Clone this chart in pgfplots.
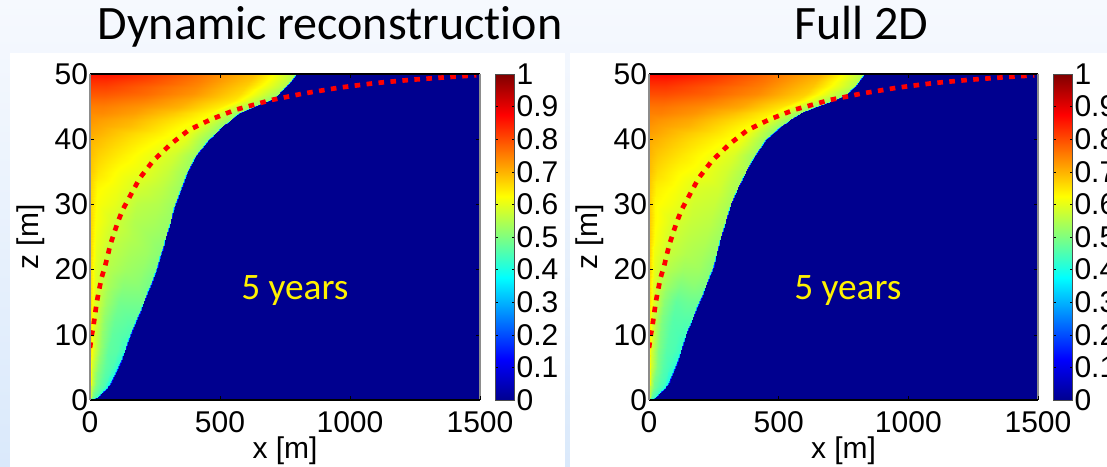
\documentclass[border=0pt]{standalone}
\usepackage{fontspec}
\setmainfont{Carlito}[Ligatures=NoCommon]
\newfontfamily\arialfont{Liberation Sans}
\usepackage{pgfplots}
\usepackage{pgfplotstable}
\pgfplotsset{compat=1.18}

% x z value : one text line per mesh row (front position)
\pgfplotstableread[row sep=\\]{
x z v\\
0 0 .68\\ .1 0 .58\\ .3 0 .5\\ .55 0 .47\\ .8 0 .44\\ 1 0 .4\\ 7 0 0\\
0 .5 .67\\ 2 .5 .58\\ 8 .5 .5\\ 15 .5 .47\\ 22 .5 .45\\ 26 .5 .4\\ 32 .5 0\\
0 1 .67\\ 3 1 .58\\ 13 1 .5\\ 23 1 .47\\ 34 1 .45\\ 42 1 .4\\ 48 1 0\\
0 1.5 .67\\ 4 1.5 .57\\ 16 1.5 .5\\ 30 1.5 .47\\ 43 1.5 .45\\ 54 1.5 .4\\ 60 1.5 0\\
0 2 .66\\ 5 2 .57\\ 20 2 .5\\ 36 2 .47\\ 52 2 .45\\ 65 2 .4\\ 71 2 0\\
0 2.5 .66\\ 6 2.5 .57\\ 22 2.5 .5\\ 41 2.5 .47\\ 59 2.5 .45\\ 74 2.5 .40\\ 80 2.5 0\\
0 5 .66\\ 8 5 .58\\ 31 5 .51\\ 57 5 .47\\ 83 5 .45\\ 104 5 .42\\ 110 5 0\\
0 7.5 .66\\ 10 7.5 .6\\ 39 7.5 .52\\ 71 7.5 .47\\ 103 7.5 .46\\ 129 7.5 .43\\ 135 7.5 0\\
0 10 .66\\ 12 10 .6\\ 45 10 .52\\ 83 10 .47\\ 121 10 .46\\ 151 10 .45\\ 157 10 0\\
0 12.5 .66\\ 14 12.5 .6\\ 53 12.5 .52\\ 97 12.5 .48\\ 142 12.5 .47\\ 177 12.5 .47\\ 183 12.5 0\\
0 15 .66\\ 16 15 .6\\ 61 15 .53\\ 112 15 .49\\ 162 15 .49\\ 203 15 .49\\ 209 15 0\\
0 17.5 .66\\ 18 17.5 .6\\ 69 17.5 .54\\ 126 17.5 .51\\ 183 17.5 .51\\ 228 17.5 .49\\ 234 17.5 0\\
0 20 .66\\ 20 20 .6\\ 75 20 .55\\ 138 20 .53\\ 200 20 .52\\ 250 20 .5\\ 256 20 0\\
0 22.5 .67\\ 22 22.5 .6\\ 81 22.5 .56\\ 149 22.5 .54\\ 216 22.5 .53\\ 270 22.5 .51\\ 276 22.5 0\\
0 25 .67\\ 23 25 .61\\ 86 25 .57\\ 158 25 .55\\ 230 25 .53\\ 288 25 .52\\ 294 25 0\\
0 27.5 .67\\ 24 27.5 .62\\ 92 27.5 .58\\ 168 27.5 .55\\ 245 27.5 .54\\ 306 27.5 .525\\ 312 27.5 0\\
0 30 .67\\ 26 30 .62\\ 98 30 .6\\ 179 30 .56\\ 260 30 .55\\ 325 30 .53\\ 331 30 0\\
0 32.5 .67\\ 28 32.5 .63\\ 104 32.5 .61\\ 191 32.5 .58\\ 278 32.5 .56\\ 347 32.5 .53\\ 353 32.5 0\\
0 35 .68\\ 30 35 .65\\ 111 35 .62\\ 204 35 .6\\ 296 35 .57\\ 370 35 .53\\ 376 35 0\\
0 37.5 .69\\ 32 37.5 .67\\ 122 37.5 .64\\ 223 37.5 .61\\ 324 37.5 .58\\ 405 37.5 .53\\ 411 37.5 0\\
0 40 .70\\ 36 40 .69\\ 137 40 .66\\ 250 40 .63\\ 364 40 .6\\ 455 40 .52\\ 461 40 0\\
0 41 .71\\ 38 41 .7\\ 144 41 .67\\ 264 41 .64\\ 384 41 .6\\ 480 41 .52\\ 486 41 0\\
0 42 .72\\ 41 42 .71\\ 152 42 .69\\ 279 42 .65\\ 406 42 .61\\ 507 42 .52\\ 513 42 0\\
0 43 .73\\ 43 43 .72\\ 161 43 .7\\ 295 43 .66\\ 430 43 .62\\ 537 43 .52\\ 543 43 0\\
0 44 .74\\ 46 44 .74\\ 171 44 .72\\ 314 44 .68\\ 456 44 .63\\ 570 44 .52\\ 576 44 0\\
0 45 .75\\ 50 45 .75\\ 188 45 .73\\ 344 45 .7\\ 500 45 .64\\ 625 45 .52\\ 631 45 0\\
0 46 .77\\ 55 46 .77\\ 207 46 .75\\ 380 46 .71\\ 552 46 .65\\ 690 46 .52\\ 696 46 0\\
0 47 .79\\ 58 47 .79\\ 217 47 .77\\ 397 47 .73\\ 578 47 .66\\ 722 47 .53\\ 728 47 0\\
0 48 .81\\ 60 48 .81\\ 224 48 .78\\ 411 48 .74\\ 598 48 .67\\ 748 48 .55\\ 754 48 0\\
0 49 .83\\ 62 49 .83\\ 231 49 .8\\ 424 49 .75\\ 616 49 .68\\ 770 49 .55\\ 776 49 0\\
0 50 .86\\ 63 50 .86\\ 237 50 .82\\ 435 50 .76\\ 632 50 .69\\ 790 50 .55\\ 796 50 0\\
}\tabL

\pgfplotstableread[row sep=\\]{
x z v\\
0 0 .68\\ .1 0 .56\\ .3 0 .49\\ .55 0 .46\\ .8 0 .44\\ 1 0 .4\\ 7 0 0\\
0 .5 .67\\ 2 .5 .56\\ 7 .5 .49\\ 12 .5 .46\\ 18 .5 .44\\ 22 .5 .4\\ 28 .5 0\\
0 1 .67\\ 3 1 .56\\ 11 1 .49\\ 21 1 .46\\ 30 1 .44\\ 38 1 .4\\ 44 1 0\\
0 1.5 .67\\ 4 1.5 .56\\ 15 1.5 .49\\ 28 1.5 .46\\ 40 1.5 .44\\ 50 1.5 .4\\ 56 1.5 0\\
0 2 .66\\ 5 2 .56\\ 18 2 .49\\ 34 2 .46\\ 49 2 .44\\ 61 2 .4\\ 67 2 0\\
0 2.5 .66\\ 6 2.5 .56\\ 21 2.5 .49\\ 38 2.5 .46\\ 56 2.5 .44\\ 70 2.5 .40\\ 76 2.5 0\\
0 5 .66\\ 8 5 .58\\ 29 5 .5\\ 53 5 .46\\ 78 5 .44\\ 97 5 .42\\ 103 5 0\\
0 7.5 .66\\ 9 7.5 .59\\ 35 7.5 .5\\ 65 7.5 .46\\ 94 7.5 .45\\ 118 7.5 .43\\ 124 7.5 0\\
0 10 .66\\ 11 10 .59\\ 41 10 .5\\ 76 10 .46\\ 110 10 .45\\ 138 10 .44\\ 144 10 0\\
0 12.5 .66\\ 13 12.5 .59\\ 50 12.5 .5\\ 91 12.5 .46\\ 132 12.5 .46\\ 165 12.5 .46\\ 171 12.5 0\\
0 15 .67\\ 15 15 .6\\ 57 15 .51\\ 105 15 .47\\ 152 15 .48\\ 190 15 .48\\ 196 15 0\\
0 17.5 .67\\ 17 17.5 .6\\ 65 17.5 .53\\ 118 17.5 .5\\ 172 17.5 .51\\ 215 17.5 .5\\ 221 17.5 0\\
0 20 .68\\ 19 20 .6\\ 72 20 .55\\ 132 20 .53\\ 192 20 .53\\ 240 20 .51\\ 246 20 0\\
0 22.5 .68\\ 21 22.5 .61\\ 77 22.5 .57\\ 142 22.5 .55\\ 206 22.5 .54\\ 258 22.5 .52\\ 264 22.5 0\\
0 25 .68\\ 22 25 .62\\ 82 25 .58\\ 150 25 .56\\ 218 25 .55\\ 272 25 .53\\ 278 25 0\\
0 27.5 .68\\ 23 27.5 .63\\ 88 27.5 .59\\ 161 27.5 .57\\ 234 27.5 .56\\ 292 27.5 .535\\ 298 27.5 0\\
0 30 .68\\ 25 30 .63\\ 93 30 .61\\ 171 30 .58\\ 249 30 .57\\ 311 30 .54\\ 317 30 0\\
0 32.5 .68\\ 27 32.5 .64\\ 101 32.5 .62\\ 186 32.5 .59\\ 270 32.5 .58\\ 338 32.5 .54\\ 344 32.5 0\\
0 35 .69\\ 30 35 .66\\ 111 35 .63\\ 203 35 .61\\ 295 35 .58\\ 369 35 .54\\ 375 35 0\\
0 37.5 .7\\ 32 37.5 .68\\ 122 37.5 .65\\ 223 37.5 .62\\ 324 37.5 .59\\ 405 37.5 .53\\ 411 37.5 0\\
0 40 .71\\ 36 40 .7\\ 135 40 .67\\ 247 40 .64\\ 359 40 .61\\ 449 40 .53\\ 455 40 0\\
0 41 .72\\ 38 41 .71\\ 143 41 .68\\ 261 41 .65\\ 380 41 .61\\ 475 41 .52\\ 481 41 0\\
0 42 .73\\ 40 42 .72\\ 152 42 .7\\ 278 42 .66\\ 404 42 .62\\ 505 42 .52\\ 511 42 0\\
0 43 .74\\ 43 43 .73\\ 161 43 .71\\ 296 43 .67\\ 430 43 .63\\ 538 43 .52\\ 544 43 0\\
0 44 .75\\ 47 44 .75\\ 175 44 .73\\ 320 44 .69\\ 466 44 .64\\ 582 44 .52\\ 588 44 0\\
0 45 .76\\ 51 45 .76\\ 191 45 .74\\ 350 45 .71\\ 510 45 .65\\ 637 45 .52\\ 643 45 0\\
0 46 .78\\ 57 46 .78\\ 214 46 .76\\ 392 46 .72\\ 570 46 .66\\ 712 46 .52\\ 718 46 0\\
0 47 .8\\ 61 47 .8\\ 227 47 .78\\ 417 47 .74\\ 606 47 .67\\ 758 47 .53\\ 764 47 0\\
0 48 .82\\ 63 48 .82\\ 236 48 .79\\ 433 48 .75\\ 630 48 .68\\ 787 48 .55\\ 793 48 0\\
0 49 .84\\ 64 49 .84\\ 242 49 .81\\ 443 49 .76\\ 645 49 .69\\ 806 49 .55\\ 812 49 0\\
0 50 .87\\ 66 50 .87\\ 248 50 .83\\ 455 50 .77\\ 662 50 .7\\ 825 50 .55\\ 831 50 0\\
}\tabR

\pgfplotstableread{
x z w
0 8 1
7 10 1
14 11.6 1
26 15 1
44 18.7 1
58 20.5 1
78 23.8 1
106 27.2 1
126 29.2 1
168 32.3 1
191 34 1
243 36.7 1
312 39.3 1
380 41.4 1
463 43 1
559 44.5 1
696 46 1
820 47 1
957 47.9 1
1095 48.6 1
1232 49.1 1
1370 49.5 1
1486 49.8 1
}\tabFront

\definecolor{dkblue}{RGB}{0,0,143}
\definecolor{bgtop}{RGB}{246,249,254}
\definecolor{bgbot}{RGB}{218,233,251}
\newcommand{\ticksize}{\arialfont\fontsize{22.5}{22.5}\selectfont}

\pgfplotsset{
  panel/.style={
    scale only axis,
    height=244.5pt,
    view={0}{90},
    xmin=0,xmax=1500,ymin=0,ymax=50,
    xtick={0,500,1000,1500},
    ytick={0,10,20,30,40,50},
    tick align=inside,
    major tick length=3pt,
    tick style={black,line width=0.4pt},
    separate axis lines,
    x axis line style={black,line width=0.8pt},
    y axis line style={black!45,line width=1.2pt},
    axis background/.style={fill=dkblue},
    axis on top,
    /pgf/number format/1000 sep={},
    /pgf/number format/assume math mode=true,
    tick label style={font=\ticksize},
    xticklabel style={yshift=-5pt},
    yticklabel style={xshift=2pt},
    xlabel={x [m]},ylabel={z [m]},
    label style={font=\ticksize},
    xlabel style={at={(axis description cs:0.5,0)},anchor=north,yshift=-24pt},
    ylabel style={at={(axis description cs:0,0.5)},anchor=south,yshift=30.5pt},
    colormap={mjet}{rgb255(0)=(0,0,143) rgb255(1)=(0,0,255) rgb255(3)=(0,255,255) rgb255(5)=(255,255,0) rgb255(7)=(255,0,0) rgb255(8)=(127,0,0)},
    point meta min=0,point meta max=1,
    colorbar,
    colorbar style={
      at={(1.039,0)},anchor=south west,
      width=14.5pt,
      ytick={0,0.1,...,1},
      yticklabels={0,0.1,0.2,0.3,0.4,0.5,0.6,0.7,0.8,0.9,1},
      tick align=inside,
      major tick length=2pt,
      yticklabel pos=right,
      yticklabel style={font=\ticksize,xshift=-2pt},
      axis line style={black!70,line width=0.6pt},
      /pgf/number format/assume math mode=true,
    },
  },
  field/.style={surf,shader=interp,mesh/cols=7,point meta=explicit},
  front/.style={red,line width=3.5pt,dash pattern=on 4.2pt off 4.8pt,no markers},
}

\begin{document}
\begin{tikzpicture}[x=0.75pt,y=0.75pt]
\clip (0,0) rectangle (1107,467);
\shade[top color=bgtop,bottom color=bgbot] (0,0) rectangle (1107,467);
\fill[white] (10,0) rectangle (565,414);
\fill[white] (570,0) rectangle (1107,414);
\node[font=\fontsize{36}{36}\selectfont,anchor=base] at (330,427) {Dynamic reconstruction};
\node[font=\fontsize{36}{36}\selectfont,anchor=base] at (861,427) {Full 2D};

\begin{axis}[panel,at={(67.5pt,50.25pt)},anchor=south west,width=292.5pt]
  \addplot3[field] table[x=x,y=z,z=v,meta=v] {\tabL};
  \addplot3[front] table[x=x,y=z,z=w] {\tabFront};
  \node[text=yellow,font=\fontsize{28}{28}\selectfont] at (axis cs:788,16.8,1) {5 years};
\end{axis}

\begin{axis}[panel,at={(486.75pt,50.25pt)},anchor=south west,width=291.75pt]
  \addplot3[field] table[x=x,y=z,z=v,meta=v] {\tabR};
  \addplot3[front] table[x=x,y=z,z=w] {\tabFront};
  \node[text=yellow,font=\fontsize{28}{28}\selectfont] at (axis cs:767,16.8,1) {5 years};
\end{axis}
\end{tikzpicture}
\end{document}
